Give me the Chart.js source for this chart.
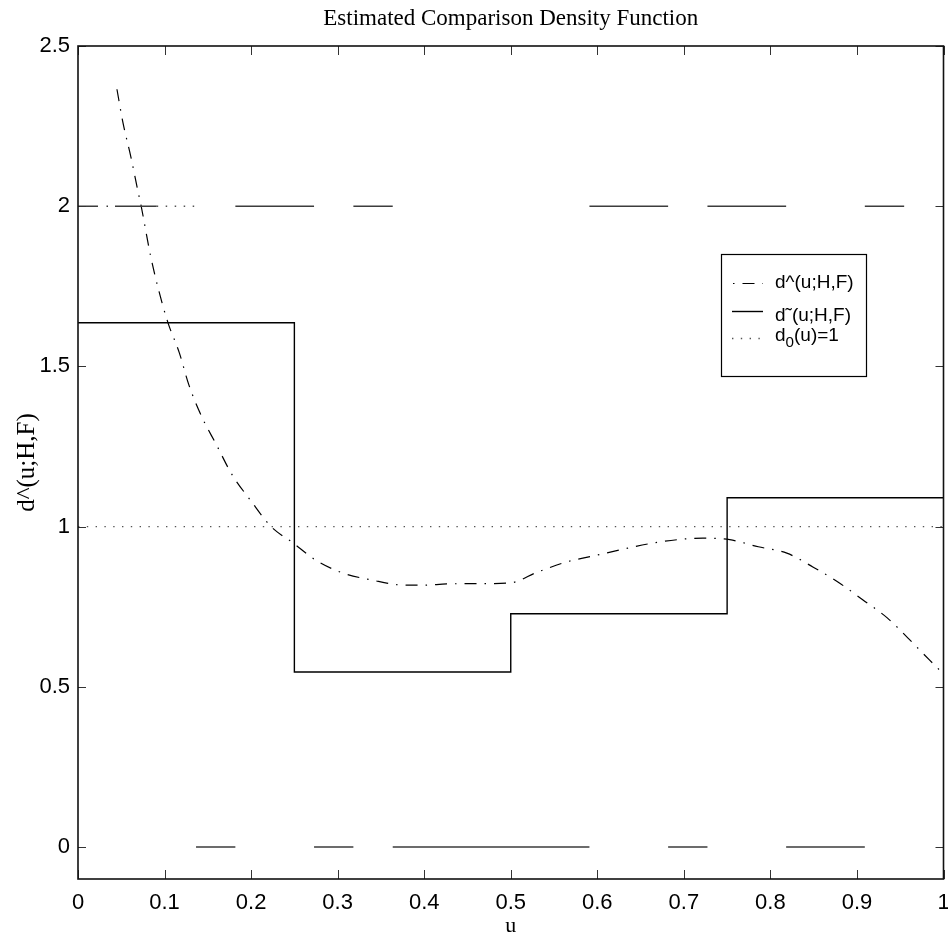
<!DOCTYPE html>
<html>
<head>
<meta charset="utf-8">
<title>Estimated Comparison Density Function</title>
<script src="https://cdn.jsdelivr.net/npm/chart.js@4.4.1/dist/chart.umd.min.js"></script>
<style>
  html, body { margin: 0; padding: 0; background: #fff; overflow: hidden; }
  #wrap { width: 948px; height: 941px; }
</style>
</head>
<body>
<div id="wrap"><canvas id="densityChart" width="948" height="941"></canvas></div>
<script>
// Smooth estimate d^(u;H,F)
const curveU = [0.045, 0.052, 0.061, 0.069, 0.073, 0.084, 0.093, 0.104, 0.117, 0.128,
                0.143, 0.160, 0.178, 0.199, 0.223, 0.248, 0.276, 0.306, 0.340, 0.372,
                0.400, 0.426, 0.468, 0.499, 0.531, 0.565, 0.595, 0.626, 0.659, 0.692,
                0.722, 0.753, 0.786, 0.819, 0.849, 0.878, 0.907, 0.935, 0.959, 0.984, 1.0];
const curveD = [2.365, 2.26, 2.155, 2.05, 2.0, 1.843, 1.74, 1.636, 1.543, 1.443,
                1.343, 1.255, 1.162, 1.083, 1.0, 0.95, 0.893, 0.855, 0.833, 0.818,
                0.817, 0.821, 0.822, 0.824, 0.858, 0.89, 0.908, 0.927, 0.946, 0.959,
                0.964, 0.959, 0.937, 0.917, 0.874, 0.827, 0.771, 0.715, 0.652, 0.583, 0.54];

// Quartile histogram d~(u;H,F)
const stepU = [0, 0.25, 0.5, 0.75, 1];
const stepD = [1.636, 0.546, 0.728, 1.09, 1.09];

// Reference density d0(u) = 1
const refU = [0, 1];
const refD = [1, 1];

// Indicator runs on a 1/22 grid, drawn at d = 2 and d = 0
const binCount = 22;
const upperRuns = [[4, 6], [7, 8], [13, 15], [16, 18], [20, 21]];
const lowerRuns = [[3, 4], [6, 7], [8, 13], [15, 16], [18, 20]];
const upperLead = [0, 2];
const upperDots = [2, 3];

const xTicks = [0, 0.1, 0.2, 0.3, 0.4, 0.5, 0.6, 0.7, 0.8, 0.9, 1];
const yTicks = [0, 0.5, 1, 1.5, 2, 2.5];

const SANS = "'Liberation Sans Narrow', 'Liberation Sans', Arial, sans-serif";
const SERIF = "'Liberation Serif', 'Times New Roman', serif";

const pairs = (us, ds) => us.map((u, i) => ({ x: u, y: ds[i] }));

function runsToPoints(runs, level) {
    return runs.flatMap(([a, b]) => [
        { x: a / binCount, y: level },
        { x: b / binCount, y: level },
        { x: b / binCount, y: null }
    ]);
}

const lineBase = { pointRadius: 0, fill: false, spanGaps: false, tension: 0 };

const datasets = [
    { ...lineBase, data: runsToPoints(upperRuns, 2), borderColor: '#3c3c3c', borderWidth: 1.4 },
    { ...lineBase, data: runsToPoints(lowerRuns, 0), borderColor: '#3c3c3c', borderWidth: 1.4 },
    { ...lineBase, data: runsToPoints([upperLead], 2), borderColor: '#3c3c3c', borderWidth: 1.4,
      borderDash: [20, 8.5, 1.5, 7, 42, 60] },
    { ...lineBase, data: runsToPoints([upperDots], 2), borderColor: '#555', borderWidth: 1.4,
      borderDash: [1.5, 7.5] },
    { ...lineBase, label: 'd_0(u)=1', data: pairs(refU, refD), borderColor: '#555', borderWidth: 1.3,
      borderDash: [1.4, 7.4] },
    { ...lineBase, label: 'd˜(u;H,F)', data: pairs(stepU, stepD), borderColor: '#000', borderWidth: 1.4,
      stepped: 'before' },
    { ...lineBase, label: 'd^(u;H,F)', data: pairs(curveU, curveD), borderColor: '#000', borderWidth: 1.2,
      borderDash: [12, 8, 1.5, 8], cubicInterpolationMode: 'monotone' }
];

// text with "_x" subscripts
function drawRich(ctx, text, x, y, size) {
    const parts = text.split(/_(\w)/);
    let cx = x;
    parts.forEach((p, i) => {
        const sub = i % 2 === 1;
        ctx.font = (sub ? size * 0.8 : size) + 'px ' + SANS;
        ctx.fillText(p, cx, sub ? y + size * 0.35 : y);
        cx += ctx.measureText(p).width;
    });
}

const framePlugin = {
    id: 'frame',
    afterDraw(chart) {
        const { ctx, chartArea: a, scales } = chart;
        ctx.save();

        // inward ticks on all four sides
        ctx.strokeStyle = '#333';
        ctx.lineWidth = 1;
        ctx.beginPath();
        xTicks.forEach(v => {
            const px = Math.round(scales.x.getPixelForValue(v)) + 0.5;
            ctx.moveTo(px, a.bottom); ctx.lineTo(px, a.bottom - 9);
            ctx.moveTo(px, a.top); ctx.lineTo(px, a.top + 9);
        });
        yTicks.forEach(v => {
            const py = Math.round(scales.y.getPixelForValue(v)) + 0.5;
            ctx.moveTo(a.left, py); ctx.lineTo(a.left + 8, py);
            ctx.moveTo(a.right, py); ctx.lineTo(a.right - 8, py);
        });
        ctx.stroke();

        // axes box
        ctx.strokeStyle = '#111';
        ctx.lineWidth = 1.6;
        ctx.strokeRect(a.left, a.top, a.right - a.left, a.bottom - a.top);

        // titles
        ctx.fillStyle = '#000';
        ctx.textAlign = 'center';
        ctx.textBaseline = 'middle';
        const cx = (a.left + a.right) / 2;
        ctx.font = '23px ' + SERIF;
        ctx.fillText('Estimated Comparison Density Function', cx, 19);
        ctx.font = '22px ' + SERIF;
        ctx.fillText('u', cx, 926);
        ctx.save();
        ctx.translate(27, (a.top + a.bottom) / 2);
        ctx.rotate(-Math.PI / 2);
        ctx.font = '25px ' + SERIF;
        ctx.fillText('d^(u;H,F)', 0, 0);
        ctx.restore();

        // legend box
        const box = { x: 721, y: 254, w: 145, h: 122 };
        ctx.fillStyle = '#fff';
        ctx.fillRect(box.x, box.y, box.w, box.h);
        ctx.strokeStyle = '#000';
        ctx.lineWidth = 1.2;
        ctx.strokeRect(box.x + 0.5, box.y + 0.5, box.w, box.h);

        const rows = [
            { ds: datasets[6], lineY: 283, textY: 283, offset: -10.5 },
            { ds: datasets[5], lineY: 311, textY: 316, offset: 0 },
            { ds: datasets[4], lineY: 338, textY: 336, offset: 0 }
        ];
        rows.forEach(r => {
            ctx.strokeStyle = r.ds.borderColor;
            ctx.lineWidth = r.ds.borderWidth;
            ctx.setLineDash(r.ds.borderDash || []);
            ctx.lineDashOffset = r.offset;
            ctx.beginPath();
            ctx.moveTo(732, r.lineY + 0.5);
            ctx.lineTo(763, r.lineY + 0.5);
            ctx.stroke();
            ctx.setLineDash([]);
            ctx.fillStyle = '#000';
            ctx.textAlign = 'left';
            ctx.textBaseline = 'middle';
            drawRich(ctx, r.ds.label, 775, r.textY, 19);
        });
        ctx.restore();
    }
};

new Chart(document.getElementById('densityChart'), {
    type: 'line',
    data: { datasets },
    options: {
        responsive: false,
        animation: false,
        devicePixelRatio: 1,
        layout: { padding: { top: 46, right: 4.5, left: 0, bottom: 0 } },
        plugins: { legend: { display: false }, tooltip: { enabled: false }, title: { display: false } },
        scales: {
            x: {
                type: 'linear', min: 0, max: 1,
                afterFit: s => { s.height = 62; s.paddingLeft = 0; s.paddingRight = 0; },
                afterBuildTicks: s => { s.ticks = xTicks.map(v => ({ value: v })); },
                grid: { display: false, drawTicks: false },
                border: { display: false },
                ticks: { padding: 11, color: '#000', maxRotation: 0, autoSkip: false,
                         callback: v => String(v),
                         font: { family: SANS, size: 22 } }
            },
            y: {
                type: 'linear', min: -0.1, max: 2.5,
                afterFit: s => { s.width = 78; s.paddingTop = 0; s.paddingBottom = 0; },
                afterBuildTicks: s => { s.ticks = yTicks.map(v => ({ value: v })); },
                grid: { display: false, drawTicks: false },
                border: { display: false },
                ticks: { padding: 8, color: '#000', autoSkip: false,
                         callback: v => String(v),
                         font: { family: SANS, size: 22 } }
            }
        }
    },
    plugins: [framePlugin]
});
</script>
</body>
</html>
